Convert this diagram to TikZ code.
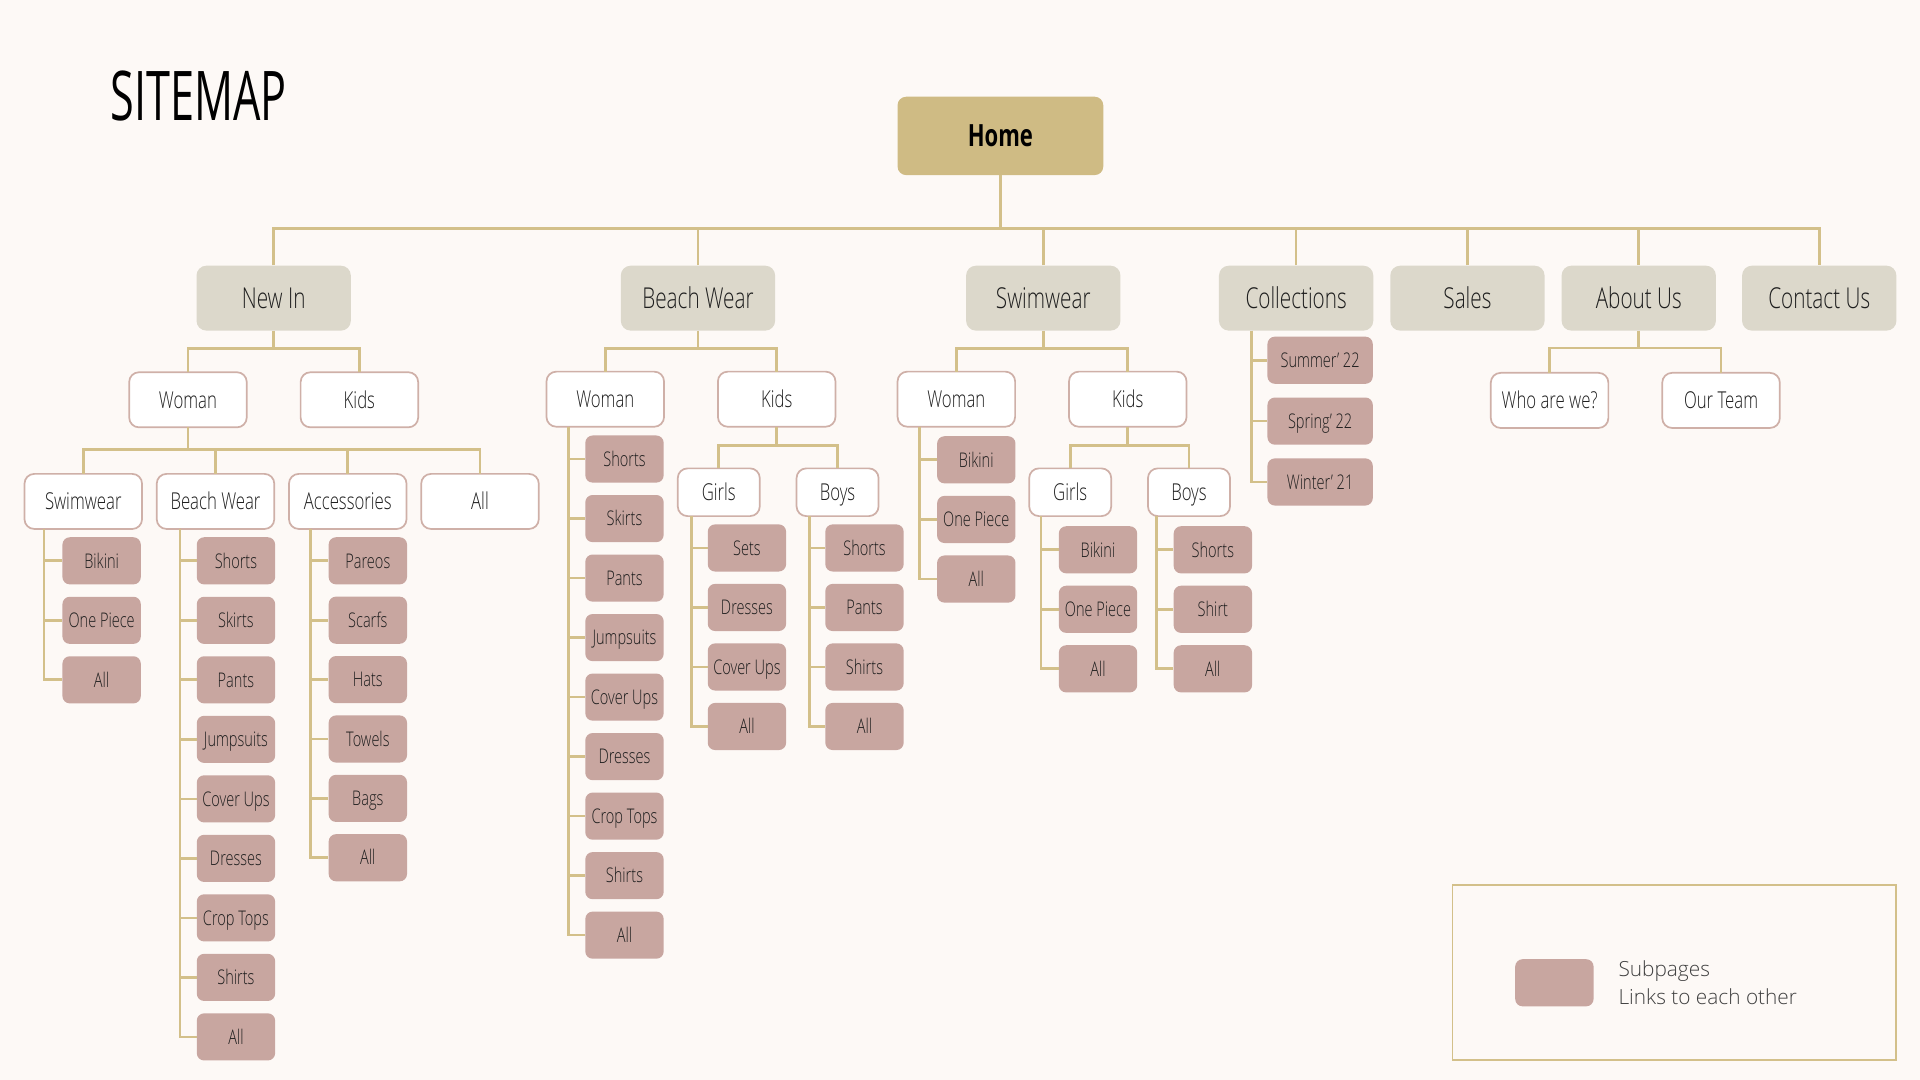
\documentclass[tikz,border=0pt]{standalone}
\usepackage{fontspec}
\setmainfont{Open Sans}[FakeStretch=0.72, UprightFont={* Light}, BoldFont={* Bold}]
\newfontfamily\titlefont{Open Sans}[FakeStretch=0.63]
\newfontfamily\legendfont{Open Sans}[UprightFont={* Light}]
\usepackage{tikz}
\usetikzlibrary{positioning, calc}
\definecolor{pagebg}{HTML}{FDF9F6}
\definecolor{homegold}{HTML}{CFBB84}
\definecolor{sectiongrey}{HTML}{DCD8CB}
\definecolor{linkgold}{HTML}{D3C08A}
\definecolor{leafpink}{HTML}{C8A6A0}
\definecolor{rimpink}{HTML}{CFB0A8}
\definecolor{inkdark}{HTML}{1E1E1E}
\tikzset{
  homebox/.style     = {rectangle, rounded corners=7pt, fill=homegold,
                        minimum width=168pt, minimum height=64pt, inner sep=0pt,
                        font=\fontsize{25}{29}\selectfont\bfseries, text=black,
                        text height=17pt, text depth=0pt},
  mainbox/.style     = {rectangle, rounded corners=8pt, fill=sectiongrey,
                        minimum width=126pt, minimum height=53pt, inner sep=0pt,
                        font=\fontsize{23.5}{27}\selectfont, text=inkdark,
                        text height=16.6pt, text depth=0pt},
  subbox/.style      = {rectangle, rounded corners=8pt, draw=rimpink, line width=1.4pt,
                        fill=white, minimum width=96pt, minimum height=45pt,
                        inner sep=0pt, outer sep=0pt,
                        font=\fontsize{19}{23}\selectfont, text=inkdark,
                        text height=13.6pt, text depth=0pt},
  kidbox/.style      = {subbox, minimum width=67pt, minimum height=39pt},
  leaf/.style        = {rectangle, rounded corners=6pt, fill=leafpink,
                        minimum width=64pt, minimum height=38.5pt, inner sep=0pt,
                        font=\fontsize{16.5}{20}\selectfont, text=inkdark,
                        text height=11.8pt, text depth=0pt},
  link/.style        = {draw=linkgold, line width=2.2pt},
  legendframe/.style = {rectangle, draw=linkgold, line width=1.6pt,
                        minimum width=362pt, minimum height=143pt},
}

\begin{document}
\begin{tikzpicture}[x=1pt, y=-1pt]

  \fill[pagebg] (0,0) rectangle (1568,882);

  \node[anchor=base west, inner sep=0pt, text=black,
        font=\titlefont\fontsize{56}{60}\selectfont] (title) at (90,98.6) {SITEMAP};

  \node[homebox] (home) at (817,111) {Home};

  % sections
  \node[mainbox] (newin)   at (223.5,243.5)  {New In};
  \node[mainbox] (bwear)   at (570,243.5)    {Beach Wear};
  \node[mainbox] (swim)    at (852,243.5)    {Swimwear};
  \node[mainbox] (coll)    at (1058.5,243.5) {Collections};
  \node[mainbox, right=13.5pt of coll]  (sales)   {Sales};
  \node[mainbox, right=13.5pt of sales] (about)   {About Us};
  \node[mainbox, right=21pt of about]   (contact) {Contact Us};

  \node[subbox] (niw) at (153.5,326.5) {Woman};
  \node[subbox, right=44pt of niw] (nik) {Kids};
  \node[subbox] (bww) at (494.3,326) {Woman};
  \node[subbox, right=44pt of bww] (bwk) {Kids};
  \node[subbox] (sww) at (781,326) {Woman};
  \node[subbox, right=44pt of sww] (swk) {Kids};
  \node[subbox] (who) at (1265.5,327) {Who are we?};
  \node[subbox, right=44pt of who] (team) {Our Team};

  \node[subbox] (nisw) at (68,409.5) {Swimwear};
  \node[subbox, right=12pt of nisw]  (nibw)  {Beach Wear};
  \node[subbox, right=12pt of nibw]  (niacc) {Accessories};
  \node[subbox, right=12pt of niacc] (niall) {All};

  \node[kidbox] (bwg) at (587,402) {Girls};
  \node[kidbox, right=30pt of bwg] (bwb) {Boys};
  \node[kidbox] (swg) at (874,402) {Girls};
  \node[kidbox, right=30pt of swg] (swb) {Boys};

  % home to sections
  \coordinate (hb) at ($(home.south)+(0,43.5)$);
  \draw[link] (home.south) -- (hb);
  \draw[link] (newin.north) |- (hb) -| (contact.north);
  \foreach \n in {bwear, swim, coll, sales, about}
    \draw[link] (\n.north) -- (\n.north |- hb);

  % sections to woman / kids
  \coordinate (ni-b) at ($(newin.south)+(0,14.5)$);
  \draw[link] (newin.south) -- (ni-b);
  \draw[link] (niw.north) |- (ni-b) -| (nik.north);
  \coordinate (bw-b) at ($(bwear.south)+(0,14.5)$);
  \draw[link] (bwear.south) -- (bw-b);
  \draw[link] (bww.north) |- (bw-b) -| (bwk.north);
  \coordinate (sw-b) at ($(swim.south)+(0,14.5)$);
  \draw[link] (swim.south) -- (sw-b);
  \draw[link] (sww.north) |- (sw-b) -| (swk.north);
  \coordinate (ab-b) at ($(about.south)+(0,14)$);
  \draw[link] (about.south) -- (ab-b);
  \draw[link] (who.north) |- (ab-b) -| (team.north);

  \coordinate (niw-b) at ($(niw.south)+(0,18)$);
  \draw[link] (niw.south) -- (niw-b);
  \draw[link] (nisw.north) |- (niw-b) -| (niall.north);
  \draw[link] (nibw.north) -- (nibw.north |- niw-b);
  \draw[link] (niacc.north) -- (niacc.north |- niw-b);

  \coordinate (bwk-b) at ($(bwk.south)+(0,15.5)$);
  \draw[link] (bwk.south) -- (bwk-b);
  \draw[link] (bwg.north) |- (bwk-b) -| (bwb.north);
  \coordinate (swk-b) at ($(swk.south)+(0,15.5)$);
  \draw[link] (swk.south) -- (swk-b);
  \draw[link] (swg.north) |- (swk-b) -| (swb.north);

  % subpages
  \coordinate (nisw-t) at ($(nisw.south west)+(16,0)$);
  \foreach \txt [count=\i] in {Bikini, One Piece, All}{
    \node[leaf] (nisw-\i) at ($(nisw-t)+(47,{26+(\i-1)*48.6})$) {\txt};
    \draw[link] (nisw-t) |- (nisw-\i.west);
  }
  \coordinate (nibw-t) at ($(nibw.south west)+(19,0)$);
  \foreach \txt [count=\i] in {Shorts, Skirts, Pants, Jumpsuits, Cover Ups, Dresses, Crop Tops, Shirts, All}{
    \node[leaf] (nibw-\i) at ($(nibw-t)+(45.7,{26+(\i-1)*48.6})$) {\txt};
    \draw[link] (nibw-t) |- (nibw-\i.west);
  }
  \coordinate (niacc-t) at ($(niacc.south west)+(17.7,0)$);
  \foreach \txt [count=\i] in {Pareos, Scarfs, Hats, Towels, Bags, All}{
    \node[leaf] (niacc-\i) at ($(niacc-t)+(46.7,{26+(\i-1)*48.5})$) {\txt};
    \draw[link] (niacc-t) |- (niacc-\i.west);
  }
  \coordinate (bww-t) at ($(bww.south west)+(17.7,0)$);
  \foreach \txt [count=\i] in {Shorts, Skirts, Pants, Jumpsuits, Cover Ups, Dresses, Crop Tops, Shirts, All}{
    \node[leaf] (bww-\i) at ($(bww-t)+(46,{26.4+(\i-1)*48.6})$) {\txt};
    \draw[link] (bww-t) |- (bww-\i.west);
  }
  \coordinate (bwg-t) at ($(bwg.south west)+(11,0)$);
  \foreach \txt [count=\i] in {Sets, Dresses, Cover Ups, All}{
    \node[leaf] (bwg-\i) at ($(bwg-t)+(45.5,{26+(\i-1)*48.6})$) {\txt};
    \draw[link] (bwg-t) |- (bwg-\i.west);
  }
  \coordinate (bwb-t) at ($(bwb.south west)+(10.7,0)$);
  \foreach \txt [count=\i] in {Shorts, Pants, Shirts, All}{
    \node[leaf] (bwb-\i) at ($(bwb-t)+(44.8,{26+(\i-1)*48.6})$) {\txt};
    \draw[link] (bwb-t) |- (bwb-\i.west);
  }
  \coordinate (sww-t) at ($(sww.south west)+(18,0)$);
  \foreach \txt [count=\i] in {Bikini, One Piece, All}{
    \node[leaf] (sww-\i) at ($(sww-t)+(46.3,{27+(\i-1)*48.7})$) {\txt};
    \draw[link] (sww-t) |- (sww-\i.west);
  }
  \coordinate (swg-t) at ($(swg.south west)+(9.6,0)$);
  \foreach \txt [count=\i] in {Bikini, One Piece, All}{
    \node[leaf] (swg-\i) at ($(swg-t)+(46.6,{27.5+(\i-1)*48.6})$) {\txt};
    \draw[link] (swg-t) |- (swg-\i.west);
  }
  \coordinate (swb-t) at ($(swb.south west)+(7.2,0)$);
  \foreach \txt [count=\i] in {Shorts, Shirt, All}{
    \node[leaf] (swb-\i) at ($(swb-t)+(45.8,{27.5+(\i-1)*48.6})$) {\txt};
    \draw[link] (swb-t) |- (swb-\i.west);
  }
  \coordinate (coll-t) at ($(coll.south west)+(27,0)$);
  \foreach \txt [count=\i] in {Summer' 22, Spring' 22, Winter' 21}{
    \node[leaf, minimum width=86pt] (coll-\i) at ($(coll-t)+(55.8,{24+(\i-1)*49.7})$) {\txt};
    \draw[link] (coll-t) |- (coll-\i.west);
  }

  % legend
  \node[legendframe] (legend) at (1367.2,794.5) {};
  \node[leaf] (swatch) at (1269.4,802.6) {};
  \node[right=20pt of swatch, inner sep=0pt, align=left, text=inkdark!85,
        font=\legendfont\fontsize{17}{23}\selectfont] (legtext) {Subpages\\Links to each other};

\end{tikzpicture}
\end{document}
